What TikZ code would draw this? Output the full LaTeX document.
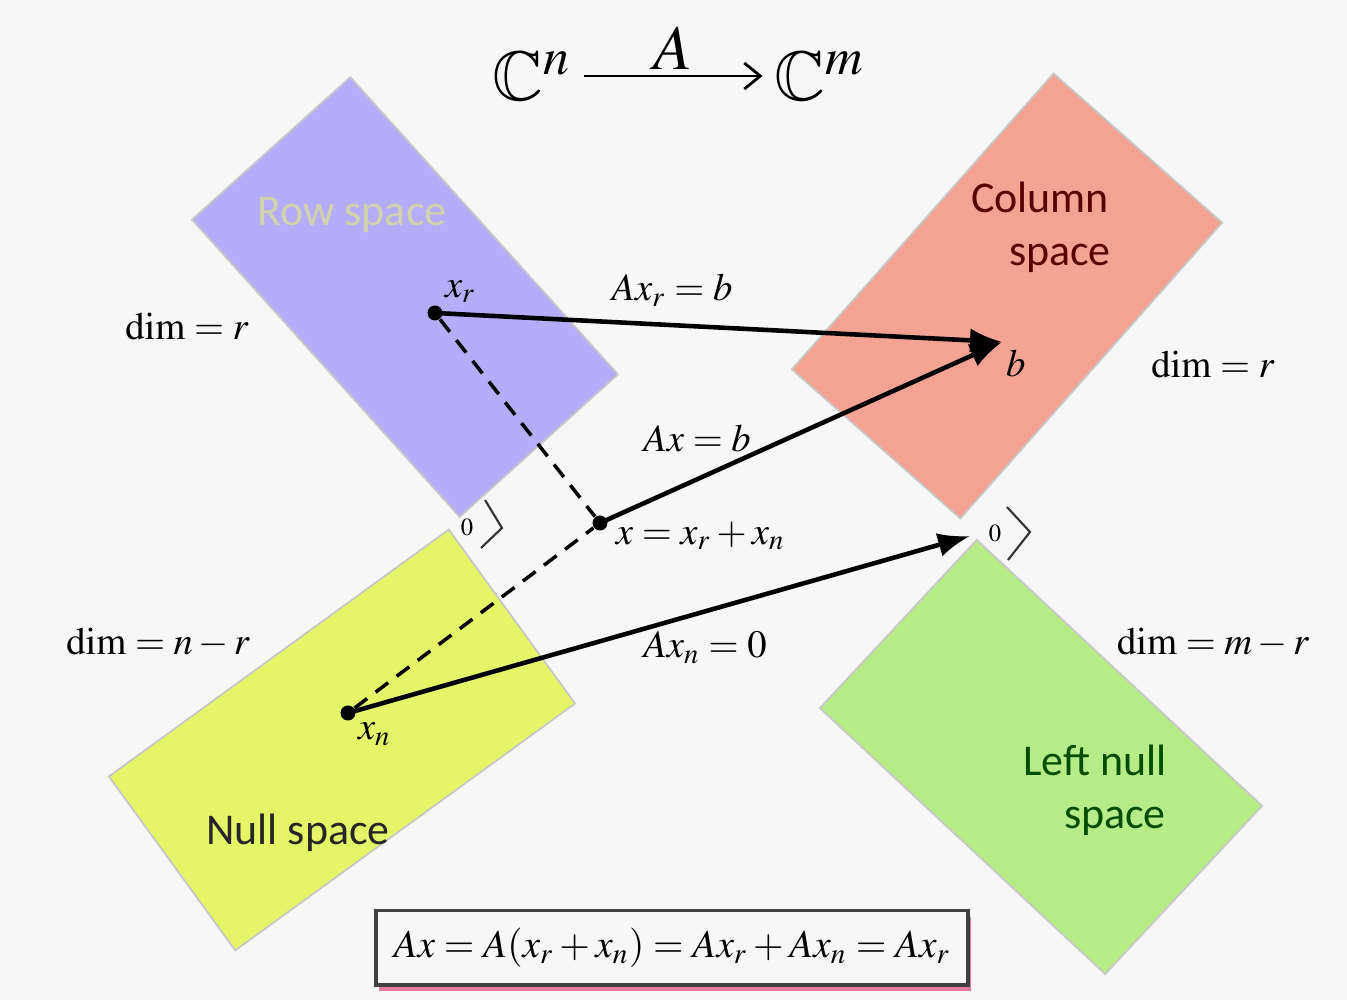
\documentclass[tikz,border=0pt]{standalone}
\usepackage{amssymb}
\usepackage{mathptmx}
\usepackage{fontspec}
\setmainfont{Liberation Serif}
\newfontfamily\labelfont{Carlito}
\usetikzlibrary{arrows.meta,positioning,shadows}

\definecolor{paper}{RGB}{247,247,247}
\definecolor{rowblue}{RGB}{181,173,250}
\definecolor{colsalmon}{RGB}{244,163,146}
\definecolor{nullyellow}{RGB}{229,245,104}
\definecolor{leftgreen}{RGB}{182,236,134}
\definecolor{eqpink}{RGB}{232,120,160}

\begin{document}
\begin{tikzpicture}[>=Latex,
  spacebox/.style={draw=black!22,line width=0.5pt,inner sep=0pt},
  spacename/.style={font=\labelfont\fontsize{12.5}{15}\selectfont,align=center,inner sep=1pt},
  mathlbl/.style={font=\fontsize{11}{13}\selectfont,inner sep=1pt},
  dot/.style={circle,fill=black,inner sep=0pt,minimum size=0.15cm},
  vec/.style={line width=1.3pt,-{Latex[length=3.2mm,width=2.4mm]},shorten <=-1pt},
  dashln/.style={line width=1pt,dash pattern=on 4.5pt off 3pt},
  zero/.style={font=\scriptsize,inner sep=0pt},
  rightang/.style={line width=0.6pt,black!80}]
\useasboundingbox[fill=paper] (0,0) rectangle (13.47,-10);

% the four subspaces
\node[spacebox,fill=rowblue,minimum width=4.0cm,minimum height=2.13cm,rotate=-48] (row) at (4.05,-2.97) {};
\node[spacebox,fill=colsalmon,minimum width=3.95cm,minimum height=2.25cm,rotate=48.5] (col) at (10.07,-2.96) {};
\node[spacebox,fill=nullyellow,minimum width=4.2cm,minimum height=2.15cm,rotate=36] (null) at (3.42,-7.40) {};
\node[spacebox,fill=leftgreen,minimum width=3.9cm,minimum height=2.3cm,rotate=-43] (lnull) at (10.41,-7.57) {};

\node[spacename,text=black!18!paper!85!yellow] (rowname) at (3.52,-2.15) {Row space};
\node[spacename,text=red!35!black] (colname) at (10.4,-2.27) {Column\\\hspace*{0.4cm}space};
\node[spacename,text=black!85] (nullname) at (2.98,-8.33) {Null space};
\node[spacename,text=green!30!black] (lnullname) at (10.95,-7.9) {Left null\\\hspace*{0.4cm}space};

% dimensions
\node[mathlbl] (dimrow) at (1.87,-3.27) {$\dim = r$};
\node[mathlbl] (dimcol) at (12.13,-3.65) {$\dim = r$};
\node[mathlbl] (dimnull) at (1.58,-6.43) {$\dim = n - r$};
\node[mathlbl] (dimlnull) at (12.13,-6.43) {$\dim = m - r$};

% title map
\node[font=\fontsize{20}{24}\selectfont] (cn) at (5.32,-0.76) {$\mathbb{C}^n$};
\node[font=\fontsize{20}{24}\selectfont] (cm) at (8.2,-0.76) {$\mathbb{C}^m$};
\draw[line width=0.8pt,-{Straight Barb[length=1.6mm,width=2.6mm]}] (cn) -- node[above=-2pt,font=\fontsize{18}{20}\selectfont] {$A$} (cm);

% vectors
\node[dot] (xr) at (4.35,-3.13) {};
\node[dot] (x) at (6.0,-5.23) {};
\node[dot] (xn) at (3.48,-7.13) {};
\coordinate (b) at (10.02,-3.42);
\coordinate (zc) at (9.70,-5.36);

\node[mathlbl,above right=0pt and 0pt of xr] (xrlbl) {$x_r$};
\node[mathlbl,below right=1pt and 0pt of b] (blbl) {$b$};
\node[mathlbl,right=1pt of x,yshift=-0.13cm] (xlbl) {$x = x_r + x_n$};
\node[mathlbl,below right=0pt and 0pt of xn] (xnlbl) {$x_n$};

\draw[dashln] (xr) -- (x);
\draw[dashln] (xn) -- (x);
\draw[vec] (xr) -- (b);
\draw[vec] (x) -- (b);
\draw[vec] (xn) -- (zc);

\node[mathlbl] (axr) at (6.72,-2.90) {$Ax_r = b$};
\node[mathlbl] (ax) at (6.97,-4.38) {$Ax = b$};
\node[mathlbl] (axn) at (7.05,-6.48) {$Ax_n = 0$};

% origins with right angle marks
\node[zero] (z0) at (4.67,-5.27) {$0$};
\node[zero] (z1) at (9.95,-5.33) {$0$};
\draw[rightang] (z0.center) ++(0.18,0.27) -- ++(0.17,-0.28) -- ++(-0.21,-0.2);
\draw[rightang] (z1.center) ++(0.12,0.26) -- ++(0.23,-0.25) -- ++(-0.22,-0.28);

% summary
\node[draw=black!75,line width=1pt,fill=paper,inner xsep=5pt,inner ysep=5pt,
  drop shadow={shadow xshift=0.3mm,shadow yshift=-0.6mm,fill=eqpink,opacity=1},
  font=\fontsize{11.2}{14}\selectfont] (eq) at (6.72,-9.48) {$Ax = A(x_r + x_n) = Ax_r + Ax_n = Ax_r$};
\end{tikzpicture}
\end{document}
